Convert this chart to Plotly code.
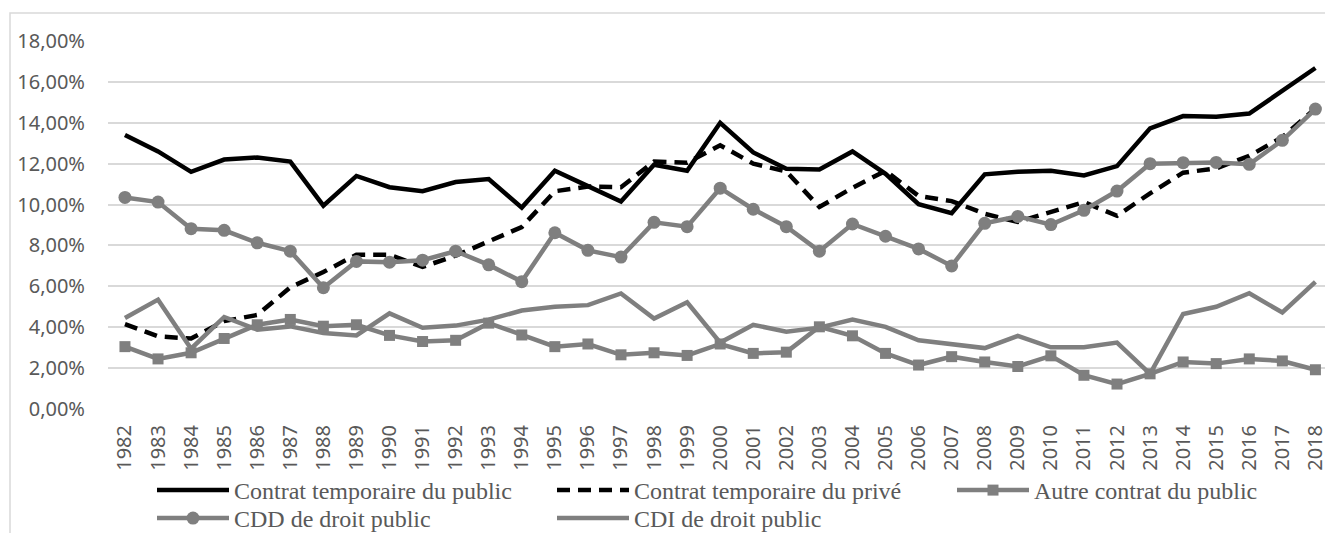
import plotly.graph_objects as go

years = [str(y) for y in range(1982, 2019)]

temp_public = [13.4, 12.6, 11.6, 12.2, 12.3, 12.1, 9.95, 11.4, 10.85, 10.65, 11.1, 11.25, 9.85,
               11.65, 10.9, 10.15, 11.95, 11.65, 14.0, 12.55, 11.75, 11.72, 12.6, 11.5, 10.02,
               9.58, 11.48, 11.6, 11.65, 11.42, 11.88, 13.73, 14.33, 14.3, 14.45, 15.55, 16.68]

temp_prive = [4.15, 3.55, 3.45, 4.3, 4.6, 5.95, 6.7, 7.55, 7.55, 6.95, 7.5, 8.22, 8.9,
              10.65, 10.88, 10.85, 12.1, 12.05, 12.9, 12.0, 11.62, 9.88, 10.82, 11.65, 10.42,
              10.17, 9.55, 9.15, 9.62, 10.12, 9.45, 10.55, 11.56, 11.77, 12.38, 13.3, 14.7]

autre_public = [3.05, 2.45, 2.75, 3.45, 4.12, 4.38, 4.05, 4.12, 3.6, 3.3, 3.36, 4.2, 3.62,
                3.05, 3.18, 2.65, 2.75, 2.62, 3.18, 2.72, 2.78, 4.02, 3.58, 2.72, 2.15,
                2.56, 2.3, 2.08, 2.6, 1.65, 1.22, 1.72, 2.3, 2.22, 2.45, 2.35, 1.92]

cdd_public = [10.35, 10.12, 8.82, 8.74, 8.13, 7.72, 5.93, 7.22, 7.18, 7.28, 7.72, 7.05, 6.23,
              8.62, 7.76, 7.43, 9.13, 8.92, 10.8, 9.77, 8.92, 7.72, 9.05, 8.45, 7.83,
              7.0, 9.08, 9.42, 9.02, 9.72, 10.66, 12.0, 12.05, 12.06, 11.97, 13.14, 14.67]

cdi_public = [4.45, 5.35, 2.95, 4.5, 3.88, 4.04, 3.72, 3.6, 4.68, 3.97, 4.08, 4.37, 4.82,
              5.0, 5.08, 5.65, 4.42, 5.22, 3.25, 4.12, 3.78, 3.98, 4.38, 4.02, 3.36,
              3.18, 2.98, 3.58, 3.02, 3.02, 3.25, 1.72, 4.65, 5.0, 5.66, 4.72, 6.22]

names = ["Contrat temporaire du public", "Contrat temporaire du privé",
         "Autre contrat du public", "CDD de droit public", "CDI de droit public"]

y_ticks = [0, 2, 4, 6, 8, 10, 12, 14, 16, 18]
y_labels = [f"{v},00%" for v in y_ticks]

BLACK = "#000000"
GRAY = "#7f7f7f"
TXT = "#595959"

fig = go.Figure()
fig.add_trace(go.Scatter(x=years, y=temp_public, name=names[0], mode="lines", legend="legend",
                         line=dict(color=BLACK, width=4.5)))
fig.add_trace(go.Scatter(x=years, y=temp_prive, name=names[1], mode="lines", legend="legend2",
                         line=dict(color=BLACK, width=4.5, dash="13px,8px")))
fig.add_trace(go.Scatter(x=years, y=autre_public, name=names[2], mode="lines+markers",
                         legend="legend3",
                         line=dict(color=GRAY, width=4.5),
                         marker=dict(symbol="square", size=11, color=GRAY)))
fig.add_trace(go.Scatter(x=years, y=cdd_public, name=names[3], mode="lines+markers",
                         legend="legend4",
                         line=dict(color=GRAY, width=4.5),
                         marker=dict(symbol="circle", size=13, color=GRAY)))
fig.add_trace(go.Scatter(x=years, y=cdi_public, name=names[4], mode="lines", legend="legend5",
                         line=dict(color=GRAY, width=4.5)))

W, H = 1325, 533
L, R, T, B = 108, 0, 41, 124

def leg(xpx, ypx):
    return dict(
        orientation="v", xref="container", yref="container",
        x=xpx / W, y=1 - ypx / H, xanchor="left", yanchor="top",
        itemwidth=72, tracegroupgap=0,
        font=dict(family="Liberation Serif", size=24, color=TXT),
        bgcolor="rgba(0,0,0,0)",
    )

fig.update_layout(
    width=W, height=H,
    margin=dict(l=L, r=R, t=T, b=B, autoexpand=False),
    paper_bgcolor="white", plot_bgcolor="white",
    showlegend=True,
    legend=leg(152, 468), legend2=leg(552, 468), legend3=leg(952, 468),
    legend4=leg(152, 496), legend5=leg(552, 496),
    xaxis=dict(
        type="category", range=[-0.513, 36.29], showgrid=False, zeroline=False,
        showline=False, ticks="", tickangle=-90,
        tickfont=dict(family="Noto Sans", size=20, color=TXT),
        ticklabelstandoff=11,
    ),
    yaxis=dict(
        range=[0, 18], tickvals=y_ticks, ticktext=y_labels, showgrid=True,
        gridcolor="#d9d9d9", gridwidth=1.5, zeroline=False, showline=False,
        tickfont=dict(family="Noto Sans", size=20, color=TXT),
        ticklabelstandoff=22,
    ),
    shapes=[dict(type="rect", xref="paper", yref="paper",
                 x0=(10 - L) / (W - L - R), x1=(1345 - L) / (W - L - R),
                 y0=(H - B - 548) / (H - T - B), y1=(H - B - 13) / (H - T - B),
                 line=dict(color="#d9d9d9", width=1.5), fillcolor="rgba(0,0,0,0)",
                 layer="below")],
)

fig.write_html(
    "out.html",
    config={"displayModeBar": False},
    post_script="document.body.style.margin='0';document.body.style.overflow='hidden';",
)
